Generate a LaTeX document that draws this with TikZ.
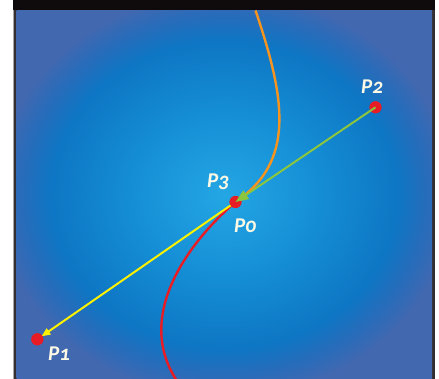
\documentclass[tikz,border=0pt]{standalone}
\usepackage{fontspec}
\setmainfont[Numbers=OldStyle]{Carlito}
\usetikzlibrary{arrows.meta}
\definecolor{framedark}{HTML}{0F0A0B}
\definecolor{bgout}{RGB}{66,104,176}
\definecolor{bgedge}{RGB}{40,108,186}
\definecolor{bgmid}{RGB}{14,118,196}
\definecolor{bgin}{RGB}{36,166,228}
\definecolor{bgring}{RGB}{20,140,212}
\definecolor{ptred}{HTML}{E81C24}
\definecolor{ptorange}{HTML}{F7941D}
\definecolor{ptgreen}{HTML}{8CC63F}
\definecolor{ptyellow}{HTML}{FFF200}
\definecolor{lblcream}{HTML}{FFFAE6}
\pgfdeclareradialshading{bluebg}{\pgfpoint{0bp}{0bp}}{color(0bp)=(bgin); color(12bp)=(bgring); color(21bp)=(bgmid); color(24.5bp)=(bgedge); color(27.5bp)=(bgout); color(50bp)=(bgout)}
\begin{document}
\begin{tikzpicture}[
    x=1pt, y=-1pt,
    dot/.style={circle, fill=ptred, minimum size=12pt, inner sep=0pt},
    lbl/.style={anchor=base west, inner sep=0pt, text=lblcream, font=\fontsize{21}{21}\selectfont\bfseries\itshape},
    curve/.style={line width=2.4pt},
    vec/.style={line width=2pt}
]
  \useasboundingbox (0,0) rectangle (439,379);
  % frame and background
  \fill[white] (0,0) rectangle (439,379);
  \fill[framedark] (13,0) rectangle (435,10.5);
  \fill[gray!70] (13,10) rectangle (14,379);
  \fill[framedark!85] (14,10) rectangle (16.5,379);
  \fill[framedark!85] (432,10) rectangle (435,379);
  \fill[bgout] (16.5,10.5) rectangle (432,379);
  \shade[shading=bluebg] (16.5,10.5) rectangle (432,379);
  % points
  \node[dot] (d0) at (235.5,202) {};
  \node[dot] (d1) at (37.3,339.3) {};
  \node[dot] (d2) at (375.5,107.3) {};
  \coordinate (top) at (255.5,10.5);
  \coordinate (bot) at (177,381);
  % curve through P0
  \draw[curve, ptorange] (top) .. controls (286,100) and (295,162) .. (d0.center);
  \draw[curve, ptred] (d0.center) .. controls (200,232) and (130,310) .. (bot);
  % vectors
  \draw[vec, ptyellow, -{Triangle[length=9pt,width=7pt]}, shorten >=5pt] (d0.center) -- (d1.center);
  \node[dot] at (d0) {};
  \node[dot] at (d1) {};
  \node[dot] at (d2) {};
  \draw[vec, ptgreen, -{Triangle[length=13pt,width=10pt]}] (d2.center) -- (d0.center);
  % labels
  \node[lbl] (l2) at (361,94) {P2};
  \node[lbl] (l3) at (207,188) {P3};
  \node[lbl] (l0) at (234,233) {P0};
  \node[lbl] (l1) at (48,360) {P1};
\end{tikzpicture}
\end{document}
